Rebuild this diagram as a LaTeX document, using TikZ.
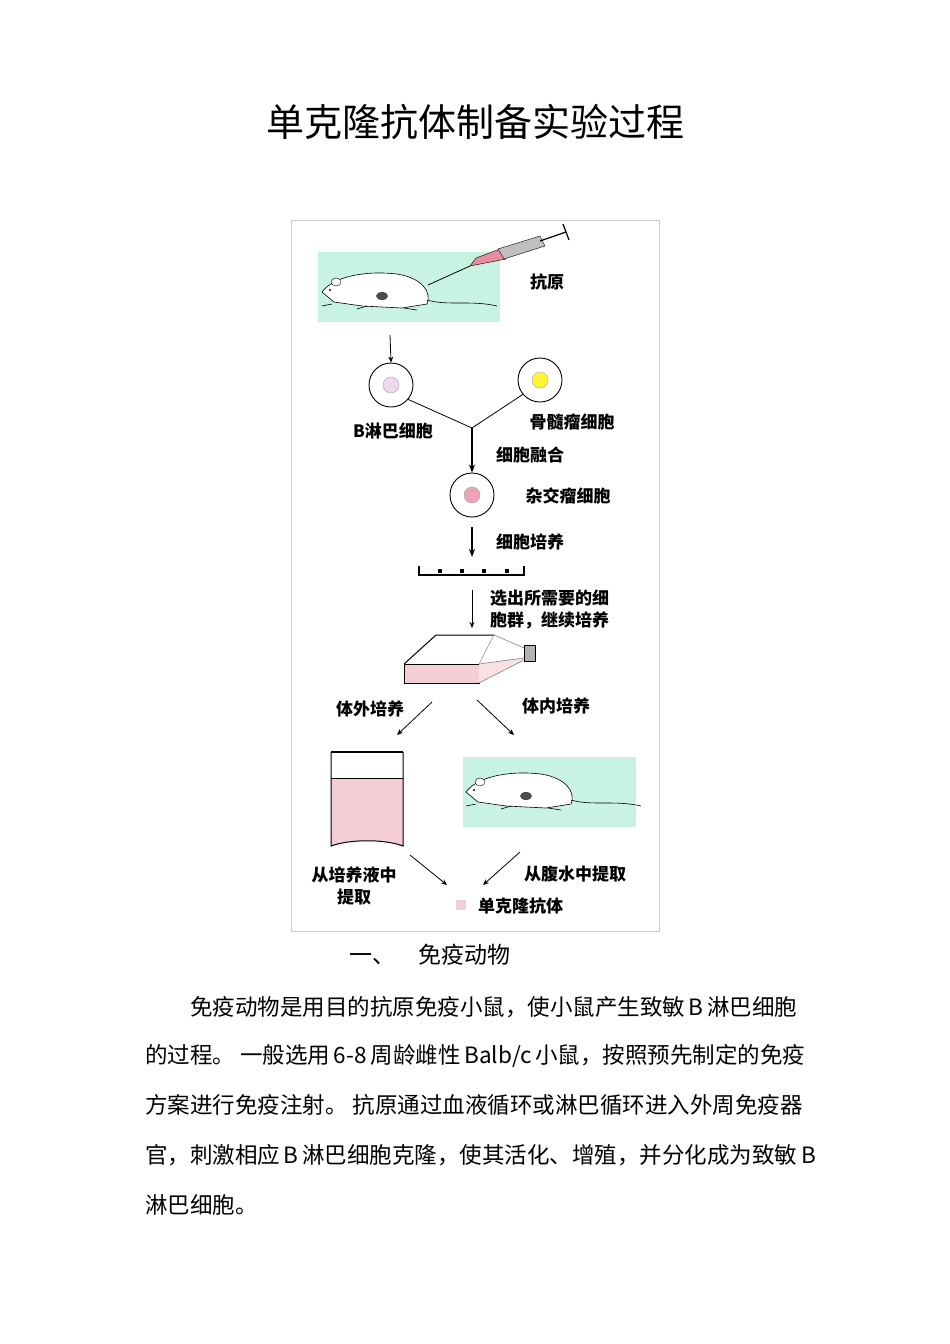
\documentclass[tikz,border=0pt]{standalone}
\usepackage{fontspec}
\setmainfont{Liberation Serif}
\newfontfamily\cjk{Noto Sans CJK SC}
\usetikzlibrary{arrows.meta}
\definecolor{mint}{RGB}{200,242,226}
\definecolor{pinkl}{RGB}{245,205,212}
\definecolor{pinkd}{RGB}{232,140,160}
\tikzset{
 lab/.style={font=\cjk\fontsize{17}{19}\selectfont\bfseries, inner sep=0},
 thinarr/.style={-{Stealth[length=6pt,width=5pt]}, line width=0.8pt},
 thickarr/.style={-{Stealth[length=8pt,width=6pt]}, line width=1.4pt},
 cell/.style={circle, draw, line width=0.9pt, minimum size=44pt, inner sep=0},
 nuc/.style={circle, draw=gray!70, minimum size=16pt, inner sep=0},
 body/.style={font=\cjk\fontsize{22.5}{26}\selectfont, inner sep=0, anchor=west},
}
\newcommand\ratdraw[2]{%
 \begin{scope}[shift={(#1,#2)}]
  \draw[fill=white, line width=0.6pt] (0,0) .. controls (10,-14) and (40,-22) .. (75,-18)
   .. controls (100,-14) and (110,0) .. (105,12) -- (80,16) -- (40,14) -- (12,10) -- cycle;
  \fill[black!70] (60,4) ellipse (6pt and 4pt);
  \draw[fill=white] (14,-10) ellipse (5pt and 4pt);
  \fill (8,-2) circle (1.2pt);
  \draw[line width=0.6pt] (105,8) .. controls (125,14) and (150,8) .. (175,14);
  \draw[line width=0.6pt] (10,12) -- (0,14) (45,14) -- (35,17) (82,16) -- (95,18);
 \end{scope}}
\begin{document}
\begin{tikzpicture}[x=1pt,y=-1pt]
\useasboundingbox (0,0) rectangle (950,1344);
\node[font=\cjk\fontsize{38}{42}\selectfont] (title) at (475,122) {单克隆抗体制备实验过程};
\draw[gray!40] (291,220) rectangle (659,931);
% top scene
\fill[mint] (318,252) rectangle (500,322);
\ratdraw{322}{292}
\coordinate (needletip) at (428,285);
\draw[line width=0.8pt] (needletip) -- (470,266);
\draw[fill=pinkd] (470,266) -- (476,258) -- (500,249) -- (506,259) -- cycle;
\draw[fill=gray!50] (498,249) -- (540,236) -- (545,246) -- (504,259) -- cycle;
\draw[line width=1.2pt] (540,241) -- (566,232);
\draw[line width=1.2pt] (563,224) -- (569,240);
\node[lab] (antigen) at (547,282) {抗原};
% cells
\node[cell] (bcell) at (391,385) {};
\node[nuc, fill=violet!15] at (bcell) {};
\node[cell] (myeloma) at (540,380) {};
\node[nuc, fill=yellow!80] at (myeloma) {};
\coordinate (ratout) at (390,335);
\draw[thinarr] (ratout) -- (bcell.north);
\node[lab] (blabel) at (393,431) {B淋巴细胞};
\node[lab] (mlabel) at (572,422) {骨髓瘤细胞};
\coordinate (join) at (472,428);
\draw[line width=0.8pt] (bcell.-40) -- (join) -- (myeloma.-140);
\node[cell] (hybrid) at (472,495) {};
\node[nuc, fill=pinkd!80] at (hybrid) {};
\draw[thickarr] (join) -- (hybrid.north);
\node[lab] (fuse) at (530,455) {细胞融合};
\node[lab] (hlabel) at (568,496) {杂交瘤细胞};
% plate
\coordinate (plate) at (472,568);
\draw[line width=1.2pt] (419,566) -- (419,575) -- (524,575) -- (524,566);
\foreach \x in {438,460,482,505} \fill (\x,573) rectangle +(4,-4);
\draw[thickarr] (hybrid.south) ++(0,10) -- (472,557);
\node[lab] (culture) at (530,542) {细胞培养};
% flask
\coordinate (flasktop) at (472,628);
\draw[thinarr] (472,590) -- (flasktop);
\node[lab, align=left, anchor=west] (select) at (490,609) {选出所需要的细\\[3pt]胞群，继续培养};
\fill[pinkl] (404,664) rectangle (479,683);
\draw[line width=1pt] (404,664) -- (436,635) -- (494,635);
\draw[line width=1pt] (404,664) rectangle (479,683);
\draw[gray, line width=0.5pt] (479,664) -- (494,635);
\fill[pinkl!60] (479,664) -- (524,658) -- (524,660) -- (479,683) -- cycle;
\draw[gray, line width=0.6pt] (494,635) -- (524,648) (479,683) -- (524,660) (479,664) -- (524,658);
\draw[fill=gray!60] (524,645) rectangle (535,661);
\node[lab] (invitro) at (370,709) {体外培养};
\node[lab] (invivo) at (556,706) {体内培养};
% beaker
\fill[pinkl] (331,778) -- (403,778) -- (403,846) .. controls (385,839) and (350,839) .. (331,846) -- cycle;
\draw[line width=1.3pt] (331,752) -- (403,752);
\draw[line width=1pt] (331,752) -- (331,846) .. controls (350,839) and (385,839) .. (403,846) -- (403,752);
\draw[line width=1pt] (331,778) -- (403,778);
\coordinate (beaker) at (367,752);
\draw[thinarr] (432,702) -- (397,735);
% bottom rat
\fill[mint] (463,757) rectangle (636,827);
\ratdraw{466}{792}
\coordinate (rat2) at (514,757);
\draw[thinarr] (477,700) -- (514,735);
% product
\node[lab, align=center] (fromliquid) at (354,886) {从培养液中\\[3pt]提取};
\node[lab] (fromascites) at (575,874) {从腹水中提取};
\fill[pinkl] (456,900) rectangle (466,910);
\node[lab, anchor=west] (mab) at (478,906) {单克隆抗体};
\draw[thinarr] (410,855) -- (447,885);
\draw[thinarr] (520,852) -- (483,885);
% text
\node[font=\cjk\fontsize{23}{26}\selectfont] (sec) at (430,955) {一、\quad 免疫动物};
\node[body] (l1) at (190,1007) {免疫动物是用目的抗原免疫小鼠，使小鼠产生致敏\,B\,淋巴细胞};
\node[body] (l2) at (145,1056) {的过程。 一般选用\,6-8\,周龄雌性\,Balb/c\,小鼠，按照预先制定的免疫};
\node[body] (l3) at (145,1105) {方案进行免疫注射。 抗原通过血液循环或淋巴循环进入外周免疫器};
\node[body] (l4) at (145,1155) {官，刺激相应\,B\,淋巴细胞克隆，使其活化、增殖，并分化成为致敏\,B};
\node[body] (l5) at (145,1205) {淋巴细胞。};
\end{tikzpicture}
\end{document}
